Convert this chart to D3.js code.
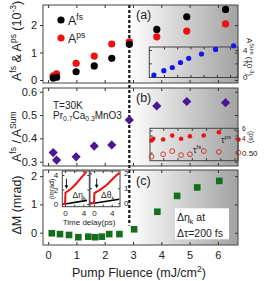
<!DOCTYPE html>
<html><head><meta charset="utf-8">
<script src="https://cdn.jsdelivr.net/npm/d3@7"></script>
<style>
body{margin:0;background:#fff}
text{font-family:"Liberation Sans",Arial,sans-serif;fill:#222}
.tick text{font-family:"Liberation Sans",Arial,sans-serif;fill:#222}
</style></head><body><div id="chart"></div>
<script>
// ---- data ----
const fluence = [0.18, 0.3, 0.99, 1.63, 2.25, 2.87, 3.84, 4.9, 6.27];
const aFs = [0.07, 0.10, 0.30, 0.51, 0.79, 1.30, 1.84, 2.30, 2.57];
const aPs = [0.15, 0.22, 0.61, 0.87, 1.31, 1.39, 1.57, 1.78, 2.04];
const sumFluence = [0.24, 0.99, 1.63, 2.25, 2.87, 3.84, 4.9, 6.27];
const aSum = [0.25, 0.90, 1.38, 2.13, 2.76, 3.40, 4.08, 4.63];
const ratio = [0.339, 0.307, 0.321, 0.367, 0.372, 0.479, 0.539, 0.558, 0.553];
const tauPs = [2.0, 2.7, 2.4, 4.0, 2.7, 3.7, 4.0, 5.3, 2.4];
const tauFsFluence = [0.18, 0.99, 1.63, 2.25, 2.87, 3.84, 4.9, 6.27];
const tauFs = [0.45, 0.48, 0.52, 0.47, 0.48, 0.52, 0.51, 0.50];
const dmFluence = [0.13, 0.42, 0.74, 1.07, 1.42, 1.66, 1.9, 2.16, 2.52, 3.04, 3.86, 4.56, 5.27, 6.05];
const dm = [-0.02, -0.05, -0.08, -0.16, -0.14, -0.16, -0.14, -0.05, -0.05, 0.12, 0.74, 1.30, 1.60, 1.83];
// small time traces in panel (c)
const etaTime = [-0.6, 0, 0.1, 1.45, 2.5, 3.6, 4.7];
const etaRed = [0, 0, 1.56, 2.17, 2.86, 3.68, 4.46];
const etaBlackTime = [-0.6, 0, 4.8];
const etaBlack = [0, 0, 0.5];
const thetaTime = [-0.9, 0, 0.1, 1.36, 2.87, 4.37, 5.7];
const thetaRed = [0, 0, 0.67, 0.89, 1.22, 1.67, 2.04];
const thetaBlackTime = [-0.9, 0, 5.7];
const thetaBlack = [0, 0, 0.27];
const cutFluence = 2.87;
const xTicks = [0, 1, 2, 3, 4, 5, 6];

const svg = d3.select('#chart').append('svg').attr('width', 267).attr('height', 281);

const x = d3.scaleLinear().domain([-0.18, 6.71]).range([43, 238]);
const yA = d3.scaleLinear().domain([-0.11, 2.73]).range([83, 5]);
const yB = d3.scaleLinear().domain([0.2815, 0.616]).range([166, 88]);
const yC = d3.scaleLinear().domain([-0.435, 2.216]).range([245, 170]);

const grad = svg.append('defs').append('linearGradient').attr('id', 'bg')
  .attr('gradientUnits', 'userSpaceOnUse')
  .attr('x1', x(cutFluence)).attr('x2', x.range()[1]).attr('y1', 0).attr('y2', 0);
grad.append('stop').attr('offset', 0).attr('stop-color', '#ffffff');
grad.append('stop').attr('offset', 1).attr('stop-color', '#a2a2a2');

// superscript / subscript helper
function rich(t, parts, size) {
  let cur = 0;
  parts.forEach(p => {
    const off = p[1] === 'sup' ? -size * 0.42 : p[1] === 'sub' ? size * 0.28 : 0;
    t.append('tspan').attr('dy', off - cur).attr('font-size', p[1] ? size * 0.68 : size).text(p[0]);
    cur = off;
  });
  return t;
}

function panel(y, yTicks, fmt) {
  const [b, t] = y.range();
  svg.append('rect').attr('x', 43).attr('y', t).attr('width', 195).attr('height', b - t).attr('fill', 'url(#bg)');
  const style = g => { g.select('.domain').remove(); g.selectAll('line').attr('stroke', '#333'); g.selectAll('text').attr('font-size', 11); };
  svg.append('g').attr('transform', `translate(0,${t})`).call(d3.axisTop(x).tickValues(xTicks).tickSize(-3).tickFormat('')).call(style);
  svg.append('g').attr('transform', `translate(0,${b})`).call(d3.axisBottom(x).tickValues(xTicks).tickSize(-3).tickFormat('')).call(style);
  svg.append('g').attr('transform', 'translate(43,0)').call(d3.axisLeft(y).tickValues(yTicks).tickSize(3).tickPadding(3).tickFormat(fmt)).call(style);
  svg.append('g').attr('transform', 'translate(238,0)').call(d3.axisRight(y).tickValues(yTicks).tickSize(-3).tickFormat('')).call(style);
}
function border(y) {
  const [b, t] = y.range();
  svg.append('rect').attr('x', 43).attr('y', t).attr('width', 195).attr('height', b - t)
    .attr('fill', 'none').attr('stroke', '#444').attr('stroke-width', 1);
}

panel(yA, [0, 1, 2], d3.format('d'));
panel(yB, [0.3, 0.4, 0.5, 0.6], d3.format('.1f'));
panel(yC, [0, 1, 2], d3.format('d'));

// bottom axis labels
svg.append('g').attr('transform', 'translate(0,245)')
  .call(d3.axisBottom(x).tickValues(xTicks).tickSize(0).tickPadding(6).tickFormat(d3.format('d')))
  .call(g => { g.select('.domain').remove(); g.selectAll('text').attr('font-size', 11); });

// dashed threshold line
svg.append('line').attr('x1', x(cutFluence)).attr('x2', x(cutFluence))
  .attr('y1', yA.range()[1]).attr('y2', yC(0.25))
  .attr('stroke', '#111').attr('stroke-width', 2.2).attr('stroke-dasharray', '3,2');

// ---- panel (a) ----
const ga = svg.append('g');
ga.selectAll('.ps').data(fluence).join('circle').attr('cx', d => x(d)).attr('cy', (d, i) => yA(aPs[i])).attr('r', 3.6).attr('fill', '#ee1111');
ga.selectAll('.fs').data(fluence).join('circle').attr('class', 'fs').attr('cx', d => x(d)).attr('cy', (d, i) => yA(aFs[i])).attr('r', 3.6).attr('fill', '#000');
ga.append('circle').attr('cx', 61).attr('cy', 20).attr('r', 3.6).attr('fill', '#000');
ga.append('circle').attr('cx', 61).attr('cy', 38).attr('r', 3.6).attr('fill', '#ee1111');
rich(ga.append('text').attr('x', 68).attr('y', 25), [['A'], ['fs', 'sup']], 12.5);
rich(ga.append('text').attr('x', 68).attr('y', 43), [['A'], ['ps', 'sup']], 12.5);
ga.append('text').attr('x', 136).attr('y', 19).attr('font-size', 12.5).text('(a)');

// inset (a): A^Sum
const xa = d3.scaleLinear().domain([-0.11, 6.6]).range([149.3, 238]);
const ya = d3.scaleLinear().domain([-0.12, 4.45]).range([77.5, 47]);
const ia = svg.append('g');
const inStyle = g => { g.select('.domain').remove(); g.selectAll('line').attr('stroke', '#333'); g.selectAll('text').attr('font-size', 8); };
ia.append('g').attr('transform', 'translate(0,47)').call(d3.axisTop(xa).tickValues([1, 2, 3, 4, 5, 6]).tickSize(-2.5).tickFormat('')).call(inStyle);
ia.append('g').attr('transform', 'translate(0,77.5)').call(d3.axisBottom(xa).tickValues([1, 2, 3, 4, 5, 6]).tickSize(-2.5).tickFormat('')).call(inStyle);
ia.append('g').attr('transform', 'translate(149.3,0)').call(d3.axisLeft(ya).tickValues([0, 2, 4]).tickSize(-2.5).tickFormat('')).call(inStyle);
ia.append('g').attr('transform', 'translate(238,0)').call(d3.axisRight(ya).tickValues([0, 2, 4]).tickSize(-2.5).tickPadding(5).tickFormat(d3.format('d'))).call(inStyle);
ia.append('rect').attr('x', 149.3).attr('y', 47).attr('width', 238 - 149.3).attr('height', 30.5).attr('fill', 'none').attr('stroke', '#444');
ia.selectAll('.sum').data(sumFluence).join('circle').attr('cx', d => xa(d)).attr('cy', (d, i) => ya(aSum[i])).attr('r', 2.6).attr('fill', '#1515ee');
rich(ia.append('text').attr('transform', 'translate(247,38) rotate(90)').attr('font-size', 8), [['A'], ['Sum', 'sup'], [' (10'], ['-3', 'sup'], [')']], 8);

// ---- panel (b) ----
const gb = svg.append('g');
const diamond = 'M0,-4.6L4.6,0L0,4.6L-4.6,0Z';
gb.selectAll('path').data(fluence).join('path').attr('d', diamond)
  .attr('transform', (d, i) => `translate(${x(d)},${yB(ratio[i])})`).attr('fill', '#4a1795');
gb.append('text').attr('x', 136).attr('y', 101.5).attr('font-size', 12.5).text('(b)');
gb.append('text').attr('x', 53).attr('y', 108.5).attr('font-size', 10).text('T=30K');
rich(gb.append('text').attr('x', 53).attr('y', 118.5), [['Pr'], ['0.7', 'sub'], ['Ca'], ['0.3', 'sub'], ['MnO3']], 10);

// inset (b): relaxation times
const xb = d3.scaleLinear().domain([0.07, 6.24]).range([150, 238]);
const yPs = d3.scaleLinear().domain([4, 6]).range([135.5, 130.5]);
const yFs = d3.scaleLinear().domain([0.4, 0.5]).range([160.7, 152.7]);
const ib = svg.append('g');
ib.append('g').attr('transform', 'translate(0,128.3)').call(d3.axisTop(xb).tickValues([1, 2, 3, 4, 5, 6]).tickSize(-2.5).tickFormat('')).call(inStyle);
ib.append('g').attr('transform', 'translate(0,160.7)').call(d3.axisBottom(xb).tickValues([1, 2, 3, 4, 5, 6]).tickSize(-2.5).tickFormat('')).call(inStyle);
ib.append('g').attr('transform', 'translate(238,0)').call(d3.axisRight(yPs).tickValues([4, 6]).tickSize(-2.5).tickPadding(4).tickFormat(d3.format('d'))).call(inStyle)
  .call(g => g.selectAll('text').attr('font-size', 6.5).attr('dy', d => d === 6 ? '-0.05em' : '0.75em'));
ib.append('g').attr('transform', 'translate(238,0)').call(d3.axisRight(yFs).tickValues([0.5]).tickSize(-2.5).tickPadding(4).tickFormat(d3.format('.2f'))).call(inStyle);
ib.append('g').attr('transform', 'translate(150,0)').call(d3.axisLeft(yPs).tickValues([4, 6]).tickSize(-2.5).tickFormat('')).call(inStyle);
ib.append('g').attr('transform', 'translate(150,0)').call(d3.axisLeft(yFs).tickValues([0.5]).tickSize(-2.5).tickFormat('')).call(inStyle);
ib.append('rect').attr('x', 150).attr('y', 128.3).attr('width', 88).attr('height', 32.4).attr('fill', 'none').attr('stroke', '#444');
ib.selectAll('.tp').data(fluence).join('circle').attr('cx', d => xb(d)).attr('cy', (d, i) => yPs(tauPs[i])).attr('r', 2.3).attr('fill', '#ee1111');
ib.selectAll('.tf').data(tauFsFluence).join('circle').attr('class', 'tf').attr('cx', d => xb(d)).attr('cy', (d, i) => yFs(tauFs[i])).attr('r', 2.4)
  .attr('fill', 'none').attr('stroke', '#e02020').attr('stroke-width', 0.9);
rich(ib.append('text').attr('x', 221).attr('y', 143), [['τ'], ['ps', 'sup']], 9);
rich(ib.append('text').attr('x', 193).attr('y', 153), [['τ'], ['fs', 'sup']], 9);
ib.append('text').attr('transform', 'translate(248.5,131) rotate(90)').attr('font-size', 7).text('(ps)');

// ---- panel (c) ----
const gc = svg.append('g');
gc.append('rect').attr('x', 175).attr('y', 208.3).attr('width', 54).attr('height', 31).attr('fill', '#fff');
gc.selectAll('rect.sq').data(dmFluence).join('rect').attr('class', 'sq')
  .attr('x', d => x(d) - 3.3).attr('y', (d, i) => yC(dm[i]) - 3.3).attr('width', 6.6).attr('height', 6.6).attr('fill', '#12701a');
gc.append('text').attr('x', 136).attr('y', 184.5).attr('font-size', 12.5).text('(c)');
rich(gc.append('text').attr('x', 177).attr('y', 221), [['Δη'], ['k', 'sub'], [' at']], 10.5);
gc.append('text').attr('x', 177).attr('y', 236.5).attr('font-size', 10.5).text('Δτ=200 fs');

// small time-trace insets
function trace(xs, ys, box, yt, yLabelSide, tRed, vRed, tBlk, vBlk, arrowT, arrowV, label) {
  const g = svg.append('g');
  g.append('rect').attr('x', box[0]).attr('y', box[2]).attr('width', box[1] - box[0]).attr('height', box[3] - box[2]).attr('fill', '#fff');
  g.append('g').attr('transform', `translate(0,${box[3]})`).call(d3.axisBottom(xs).tickValues([0, 2, 4]).tickSize(-2).tickPadding(4).tickFormat(d => d === 2 ? '' : d)).call(inStyle);
  g.append('g').attr('transform', `translate(0,${box[2]})`).call(d3.axisTop(xs).tickValues([0, 2, 4]).tickSize(-2).tickFormat('')).call(inStyle);
  const left = d3.axisLeft(ys).tickValues(yt).tickSize(-2).tickPadding(4);
  const right = d3.axisRight(ys).tickValues(yt).tickSize(-2).tickPadding(4);
  g.append('g').attr('transform', `translate(${box[0]},0)`).call(yLabelSide === 'left' ? left.tickFormat(d3.format('d')) : left.tickFormat('')).call(inStyle);
  g.append('g').attr('transform', `translate(${box[1]},0)`).call(yLabelSide === 'right' ? right.tickFormat(d3.format('d')) : right.tickFormat('')).call(inStyle);
  g.append('rect').attr('x', box[0]).attr('y', box[2]).attr('width', box[1] - box[0]).attr('height', box[3] - box[2]).attr('fill', 'none').attr('stroke', '#444');
  const line = d3.line().x(d => xs(d[0])).y(d => ys(d[1]));
  g.append('path').attr('d', line(tBlk.map((t, i) => [t, vBlk[i]]))).attr('fill', 'none').attr('stroke', '#000').attr('stroke-width', 1.6);
  g.append('path').attr('d', line(tRed.map((t, i) => [t, vRed[i]]))).attr('fill', 'none').attr('stroke', '#ee1111').attr('stroke-width', 2);
  g.append('line').attr('x1', xs(arrowT)).attr('x2', xs(arrowT)).attr('y1', ys(arrowV[0])).attr('y2', ys(arrowV[1]) - 3).attr('stroke', '#000').attr('stroke-width', 0.9);
  g.append('path').attr('d', `M${xs(arrowT) - 1.8},${ys(arrowV[1]) - 3.5}L${xs(arrowT) + 1.8},${ys(arrowV[1]) - 3.5}L${xs(arrowT)},${ys(arrowV[1])}Z`).attr('fill', '#000');
  rich(g.append('text').attr('x', label[0]).attr('y', label[1]), [[label[2]], ['k', 'sub']], 8.5);
}
const xe = d3.scaleLinear().domain([-0.6, 5.3]).range([62.3, 89.3]);
const ye = d3.scaleLinear().domain([-0.37, 4.55]).range([206.7, 171]);
trace(xe, ye, [62.3, 89.3, 171, 206.7], [0, 2, 4], 'left', etaTime, etaRed, etaBlackTime, etaBlack, 0.3, [3.5, 2.1], [72.5, 198, 'Δη']);
const xt = d3.scaleLinear().domain([-0.9, 5.88]).range([90, 120]);
const yt = d3.scaleLinear().domain([-0.23, 2.15]).range([206.7, 171]);
trace(xt, yt, [90, 120, 171, 206.7], [0, 1, 2], 'right', thetaTime, thetaRed, thetaBlackTime, thetaBlack, 0.6, [1.65, 1.0], [101, 198, 'Δθ']);
svg.append('text').attr('transform', 'translate(54,189) rotate(-90)').attr('text-anchor', 'middle').attr('font-size', 7).text('(mrad)');
svg.append('text').attr('x', 89).attr('y', 225).attr('text-anchor', 'middle').attr('font-size', 8).text('Time delay(ps)');

// borders on top
border(yA); border(yB); border(yC);

// axis titles
rich(svg.append('text').attr('transform', 'translate(21,81) rotate(-90)'), [['A'], ['fs', 'sup'], [' & A'], ['ps', 'sup'], [' (10'], ['-3', 'sup'], [')']], 12.5);
rich(svg.append('text').attr('transform', 'translate(21,162) rotate(-90)'), [['A'], ['fs', 'sup'], [' / A'], ['Sum', 'sup']], 12.5);
svg.append('text').attr('transform', 'translate(21,205) rotate(-90)').attr('text-anchor', 'middle').attr('font-size', 12.5).text('ΔM (mrad)');
rich(svg.append('text').attr('x', 72).attr('y', 277), [['Pump Fluence (mJ/cm'], ['2', 'sup'], [')']], 12.5);
</script></body></html>
